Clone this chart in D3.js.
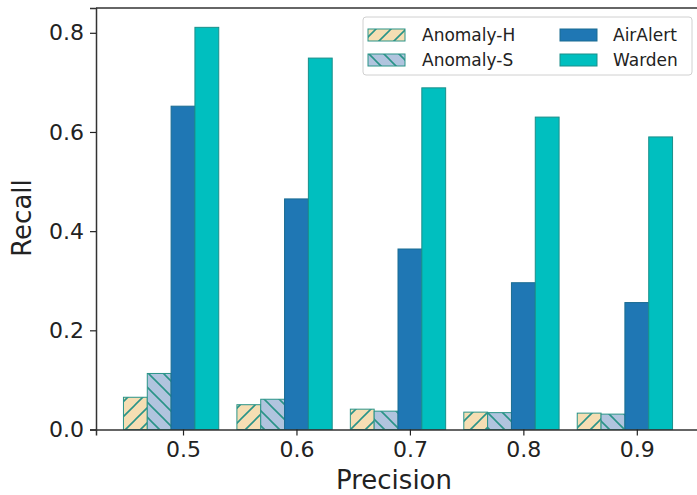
<!DOCTYPE html>
<html>
<head>
<meta charset="utf-8">
<script src="https://cdn.jsdelivr.net/npm/d3@7"></script>
<style>
  html, body { margin: 0; padding: 0; background: #fff; }
  svg { display: block; font-family: "DejaVu Sans", sans-serif; }
</style>
</head>
<body>
<svg id="chart" width="697" height="495"></svg>
<script>
// Recall of each detector at fixed precision levels
const precisionLabels = ["0.5", "0.6", "0.7", "0.8", "0.9"];
const seriesNames = ["Anomaly-H", "Anomaly-S", "AirAlert", "Warden"];
const anomalyH = [0.065, 0.050, 0.041, 0.035, 0.033];
const anomalyS = [0.113, 0.061, 0.037, 0.034, 0.031];
const airAlert = [0.652, 0.465, 0.364, 0.296, 0.256];
const warden   = [0.811, 0.749, 0.689, 0.630, 0.590];
const yTicks = [0.0, 0.2, 0.4, 0.6, 0.8];

const seriesValues = [anomalyH, anomalyS, airAlert, warden];
const seriesStyle = [
  { fill: "url(#hatchFwd)", edge: "#2a9488" },
  { fill: "url(#hatchBack)", edge: "#2a9488" },
  { fill: "#1f77b4", edge: "#1b6d92" },
  { fill: "#00bfbf", edge: "#1a8f8a" }
];
const barW = 0.21;           // bar width in category units
const offsets = [-2, -1, 0, 1]; // bar centre offsets (in bar widths)

const svg = d3.select("#chart");
const plot = { left: 96, right: 700, top: 8, bottom: 429.5 };

const x = d3.scaleLinear().domain([-0.767, 4.557]).range([plot.left, plot.right]);
const y = d3.scaleLinear().domain([0, 0.85]).range([plot.bottom, plot.top]);

// hatch patterns
const defs = svg.append("defs");
function hatch(id, bg, forward) {
  const s = 15;
  const p = defs.append("pattern").attr("id", id)
    .attr("patternUnits", "userSpaceOnUse").attr("width", s).attr("height", s);
  p.append("rect").attr("width", s).attr("height", s).attr("fill", bg);
  const line = forward
    ? `M0,${s} L${s},0 M${-s/2},${s/2} L${s/2},${-s/2} M${s/2},${s*1.5} L${s*1.5},${s/2}`
    : `M0,0 L${s},${s} M${-s/2},${s/2} L${s/2},${s*1.5} M${s/2},${-s/2} L${s*1.5},${s/2}`;
  p.append("path").attr("d", line).attr("stroke", "#2a9488").attr("stroke-width", 1.6).attr("fill", "none");
}
hatch("hatchFwd", "#f5deb3", true);
hatch("hatchBack", "#b0c4de", false);

// bars
seriesValues.forEach((vals, si) => {
  svg.append("g").selectAll("rect").data(vals).join("rect")
    .attr("x", (d, i) => x(i + offsets[si] * barW - barW / 2))
    .attr("width", (d, i) => x(i + offsets[si] * barW + barW / 2) - x(i + offsets[si] * barW - barW / 2))
    .attr("y", d => y(d))
    .attr("height", d => y(0) - y(d))
    .attr("fill", seriesStyle[si].fill)
    .attr("stroke", seriesStyle[si].edge)
    .attr("stroke-width", 1);
});

// axes
const xAxis = d3.axisBottom(x).tickValues(d3.range(precisionLabels.length))
  .tickFormat(i => precisionLabels[i]).tickSizeOuter(0).tickSize(6).tickPadding(6);
const gx = svg.append("g").attr("transform", `translate(0,${plot.bottom})`).call(xAxis);
const yAxis = d3.axisLeft(y).tickValues(yTicks).tickFormat(d3.format(".1f"))
  .tickSizeOuter(0).tickSize(6).tickPadding(6);
const gy = svg.append("g").attr("transform", `translate(${plot.left},0)`).call(yAxis);
[gx, gy].forEach(g => {
  g.selectAll("text").attr("font-size", 22).attr("fill", "#222").attr("font-family", "DejaVu Sans");
  g.selectAll("line").attr("stroke", "#222").attr("stroke-width", 1.2);
  g.select(".domain").attr("stroke", "#333").attr("stroke-width", 1.5);
});
// top spine
svg.append("line").attr("x1", plot.left).attr("x2", plot.right)
  .attr("y1", plot.top).attr("y2", plot.top).attr("stroke", "#333").attr("stroke-width", 1.5);

// axis titles
svg.append("text").attr("x", (plot.left + plot.right) / 2 - 4).attr("y", 489)
  .attr("text-anchor", "middle").attr("font-size", 26).attr("fill", "#222").text("Precision");
svg.append("text").attr("transform", `translate(31,${218}) rotate(-90)`)
  .attr("text-anchor", "middle").attr("font-size", 26).attr("fill", "#222").text("Recall");

// legend
const lg = svg.append("g");
lg.append("rect").attr("x", 363).attr("y", 17).attr("width", 329).attr("height", 58)
  .attr("rx", 3).attr("fill", "#fff").attr("fill-opacity", 0.85)
  .attr("stroke", "#d0d0d0").attr("stroke-width", 1);
const legendPos = [
  { px: 368, lx: 422, cy: 35 },
  { px: 368, lx: 422, cy: 60 },
  { px: 560, lx: 613, cy: 35 },
  { px: 560, lx: 613, cy: 60 }
];
seriesNames.forEach((name, si) => {
  const p = legendPos[si];
  lg.append("rect").attr("x", p.px).attr("y", p.cy - 6).attr("width", 37).attr("height", 12)
    .attr("fill", seriesStyle[si].fill).attr("stroke", seriesStyle[si].edge).attr("stroke-width", 1);
  lg.append("text").attr("x", p.lx).attr("y", p.cy).attr("dy", "0.35em")
    .attr("font-size", 17).attr("fill", "#222").text(name);
});
</script>
</body>
</html>
